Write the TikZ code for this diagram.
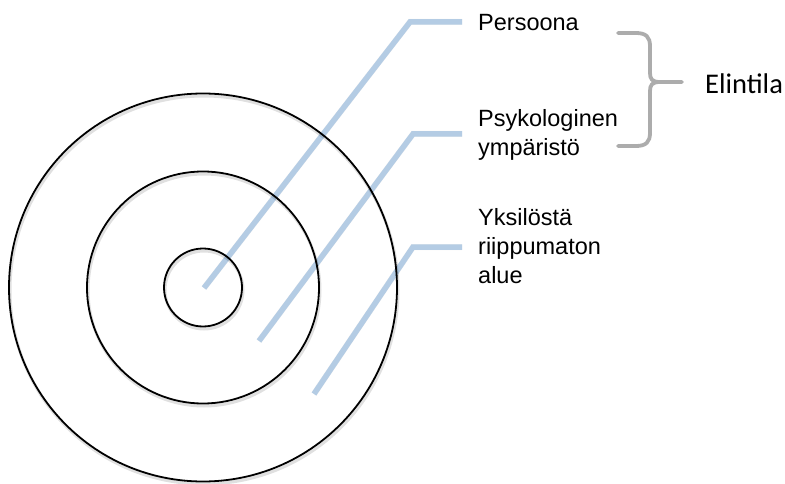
\documentclass[tikz,border=0pt]{standalone}
\usepackage{fontspec}
\setmainfont{Liberation Sans}
\newfontfamily\calibrifont{Carlito}
\definecolor{leaderblue}{RGB}{180,204,228}
\definecolor{bracegray}{RGB}{172,172,172}
\begin{document}
\begin{tikzpicture}[x=1pt,y=-1pt,
  ring/.style={draw=black,line width=1.8pt},
  ringshadow/.style={draw=black,opacity=0.12,line width=3pt},
  leader/.style={draw=leaderblue,line width=5.5pt,line join=miter},
  leadershadow/.style={draw=black,opacity=0.06,line width=6pt},
  label/.style={anchor=base west,inner sep=0pt,align=left,
    font=\fontsize{23.5}{29}\selectfont},
  bracepath/.style={draw=bracegray,line width=3.8pt,line cap=round}]
\useasboundingbox (0,0) rectangle (785,484);

% labels (base anchor of a multi-line node sits on its last line)
\node[label] (lab1) at (478,31) {Persoona};
\node[label] (lab2) at (478,156) {Psykologinen\\ympäristö};
\node[label] (lab3) at (478,283) {Yksilöstä\\riippumaton\\alue};
\node[anchor=base west,inner sep=0pt,font=\calibrifont\fontsize{28.5}{34}\selectfont]
  (elin) at (705,94) {Elintila};

% leader anchors
\coordinate (c) at (203,287.5);
\coordinate (p1) at (204,288);
\coordinate (e1) at (410,22);
\coordinate (p2) at (259,341);
\coordinate (e2) at (413,134);
\coordinate (p3) at (314,394);
\coordinate (e3) at (413,247);

% leader shadows and leaders
\foreach \i in {1,2,3}{
  \draw[leadershadow,shift={(1.5,2.5)}] (p\i) -- (e\i) -- ([xshift=-16pt]lab\i.west |- e\i);
}
\draw[leader] (p1) -- (e1) -- ([xshift=-16pt]lab1.west |- e1);
\draw[leader] (p2) -- (e2) -- ([xshift=-16pt]lab2.west |- e2);
\draw[leader] (p3) -- (e3) -- ([xshift=-16pt]lab3.west |- e3);

% concentric regions
\foreach \r in {194,116,39}{
  \draw[ringshadow] ([shift={(1,2.5)}]c) circle[radius=\r];
}
\draw[ring] (c) circle[radius=194];
\draw[ring] (c) circle[radius=116];
\draw[ring] (c) circle[radius=39];

% brace grouping the first two labels
\coordinate (tip) at (682,82);
\draw[bracepath] (618,33) -- (636,33) .. controls (646,33) and (650,37) .. (650,46)
  -- (650,73) .. controls (650,79) and (652,82) .. (660,82) -- (tip);
\draw[bracepath] (618,146) -- (636,146) .. controls (646,146) and (650,142) .. (650,133)
  -- (650,91) .. controls (650,85) and (652,82) .. (660,82);
\end{tikzpicture}
\end{document}
